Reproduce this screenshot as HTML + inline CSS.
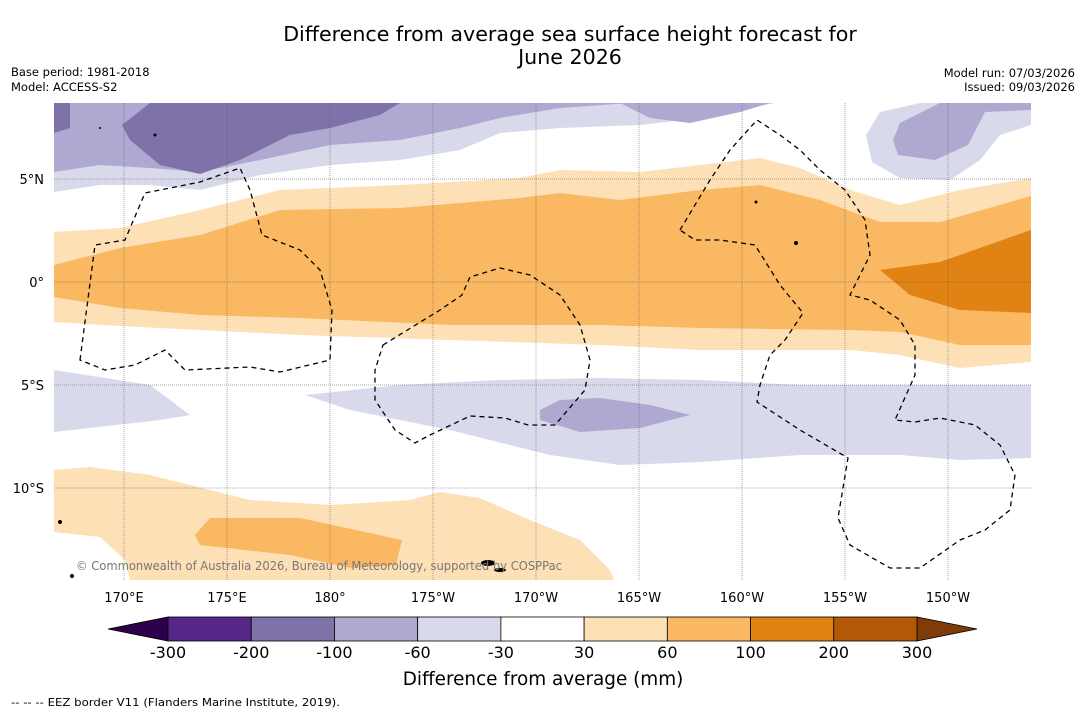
<!DOCTYPE html>
<html><head><meta charset="utf-8"><style>
body{margin:0;background:#fff;width:1085px;height:713px;overflow:hidden;font-family:"DejaVu Sans","Liberation Sans",sans-serif;}
svg text{font-family:"DejaVu Sans","Liberation Sans",sans-serif;}
</style></head><body>
<svg width="1085" height="713" viewBox="0 0 1085 713" xmlns="http://www.w3.org/2000/svg">
<text x="570" y="41" font-size="20.6" text-anchor="middle">Difference from average sea surface height forecast for</text>
<text x="570" y="64" font-size="20.6" text-anchor="middle">June 2026</text>
<text x="11" y="76" font-size="11.5">Base period: 1981-2018</text>
<text x="11" y="91" font-size="11.5">Model: ACCESS-S2</text>
<text x="1075" y="77" font-size="11.5" text-anchor="end">Model run: 07/03/2026</text>
<text x="1075" y="91" font-size="11.5" text-anchor="end">Issued: 09/03/2026</text>
<defs><clipPath id="mc"><rect x="54" y="103" width="977" height="477"/></clipPath></defs>
<g clip-path="url(#mc)">
<rect x="54" y="103" width="977" height="477" fill="#fff"/>
<path fill="#d8d9ea" d="M54,103 L775,103 L740,110 L700,118 L640,125 L560,128 L500,133 L460,150 L400,160 L330,165 L260,175 L200,190 L150,185 L100,185 L54,192 Z"/>
<path fill="#afa8d0" d="M54,103 L630,103 L560,108 L500,118 L460,128 L400,140 L330,145 L260,160 L200,172 L150,168 L100,165 L54,172 Z"/>
<path fill="#7f72a9" d="M54,103 L70,103 L70,128 L54,133 Z M122,125 L150,103 L400,103 L380,115 L330,128 L290,135 L240,160 L200,174 L160,165 L130,140 Z"/>
<path fill="#afa8d0" d="M620,103 L770,103 L740,112 L690,123 L650,118 Z"/>
<path fill="#d8d9ea" d="M880,112 L920,103 L1031,103 L1031,125 L1000,135 L980,160 L950,180 L900,178 L872,162 L866,135 Z"/>
<path fill="#afa8d0" d="M900,123 L940,103 L1031,103 L1031,110 L985,112 L968,145 L935,160 L898,155 L893,140 Z"/>
<path fill="#fee0b6" d="M54,232 L120,228 L200,210 L280,190 L400,185 L520,178 L560,170 L640,172 L700,165 L760,158 L800,168 L850,190 L900,205 L960,190 L1031,178 L1031,362 L960,368 L900,355 L850,350 L700,350 L600,345 L450,340 L300,335 L200,330 L120,326 L54,322 Z"/>
<path fill="#fab863" d="M54,265 L120,248 L200,235 L280,210 L400,208 L520,198 L560,193 L620,200 L700,190 L760,185 L820,200 L880,222 L940,222 L1031,196 L1031,345 L960,345 L900,332 L850,330 L700,328 L600,325 L450,325 L300,318 L200,315 L120,308 L54,297 Z"/>
<path fill="#e08214" d="M880,270 L940,262 L1031,230 L1031,313 L960,310 L910,295 Z"/>
<path fill="#d8d9ea" d="M305,395 L400,385 L500,380 L600,378 L700,380 L800,385 L900,385 L1031,385 L1031,458 L960,460 L900,455 L800,455 L700,462 L620,465 L550,455 L450,430 L350,410 Z M54,370 L150,385 L190,415 L160,420 L54,432 Z"/>
<path fill="#afa8d0" d="M540,410 L560,400 L600,398 L650,405 L690,415 L640,428 L580,432 L540,420 Z"/>
<path fill="#fee0b6" d="M54,470 L90,467 L150,475 L250,500 L330,505 L410,500 L440,492 L480,498 L530,520 L580,540 L610,570 L614,580 L130,580 L125,560 L100,537 L54,532 Z"/>
<path fill="#fab863" d="M195,535 L210,518 L300,518 L402,540 L396,565 L350,568 L290,555 L200,545 Z"/>
<g stroke="#555" stroke-width="0.5" stroke-dasharray="1,1">
<line x1="124" y1="103" x2="124" y2="580"/><line x1="227" y1="103" x2="227" y2="580"/><line x1="330" y1="103" x2="330" y2="580"/><line x1="433" y1="103" x2="433" y2="580"/><line x1="536" y1="103" x2="536" y2="580"/><line x1="639" y1="103" x2="639" y2="580"/><line x1="742" y1="103" x2="742" y2="580"/><line x1="845" y1="103" x2="845" y2="580"/><line x1="948" y1="103" x2="948" y2="580"/>
<line x1="54" y1="179" x2="1031" y2="179"/><line x1="54" y1="282" x2="1031" y2="282"/><line x1="54" y1="385" x2="1031" y2="385"/><line x1="54" y1="488" x2="1031" y2="488"/>
</g>
<g fill="none" stroke="#000" stroke-width="1.3" stroke-dasharray="5,4">
<path d="M80,360 L95,245 L125,240 L145,193 L200,182 L240,168 L250,190 L262,235 L300,250 L320,270 L332,310 L330,360 L280,372 L250,367 L185,370 L165,350 L135,365 L105,370 Z"/>
<path d="M383,345 L440,310 L462,295 L470,277 L500,268 L530,275 L560,295 L580,325 L590,360 L585,390 L555,425 L528,425 L505,418 L470,416 L430,435 L415,443 L395,430 L375,400 L375,370 Z"/>
<path d="M680,230 L710,180 L730,150 L757,120 L780,135 L800,150 L820,170 L845,190 L865,220 L870,255 L850,295 L870,300 L900,320 L915,345 L915,375 L895,420 L915,422 L940,418 L975,425 L1000,445 L1015,475 L1010,510 L985,530 L960,540 L920,568 L890,568 L850,545 L838,518 L848,458 L800,430 L757,402 L760,385 L770,355 L785,340 L803,313 L780,285 L755,245 L720,240 L695,240 Z"/>
</g>
<g fill="#000">
<ellipse cx="488" cy="563" rx="7" ry="3"/><ellipse cx="500" cy="570" rx="6" ry="2"/><circle cx="72" cy="576" r="2"/><circle cx="60" cy="522" r="2"/><circle cx="756" cy="202" r="1.5"/><circle cx="796" cy="243" r="2"/><circle cx="155" cy="135" r="1.5"/><circle cx="100" cy="128" r="1"/>
</g>
<text x="76" y="570" font-size="12" fill="#777" textLength="486" lengthAdjust="spacingAndGlyphs">© Commonwealth of Australia 2026, Bureau of Meteorology, supported by COSPPac</text>
</g>
<g font-size="13" text-anchor="end">
<text x="44" y="184">5°N</text><text x="44" y="287">0°</text><text x="44" y="390">5°S</text><text x="44" y="493">10°S</text>
</g>
<g font-size="13" text-anchor="middle">
<text x="124" y="602">170°E</text><text x="227" y="602">175°E</text><text x="330" y="602">180°</text><text x="433" y="602">175°W</text><text x="536" y="602">170°W</text><text x="639" y="602">165°W</text><text x="742" y="602">160°W</text><text x="845" y="602">155°W</text><text x="948" y="602">150°W</text>
</g>
<g id="cbar"></g>
<text x="543" y="685" font-size="18.4" text-anchor="middle">Difference from average (mm)</text>
<text x="11" y="706" font-size="11" textLength="329" lengthAdjust="spacingAndGlyphs">--  --  -- EEZ border V11 (Flanders Marine Institute, 2019).</text>
</svg>
<script>
const levels=["-300","-200","-100","-60","-30","30","60","100","200","300"];
const colors=["#542788","#7f72a9","#afa8d0","#d8d9ea","#ffffff","#fee0b6","#fab863","#e08214","#b35806"];
const extendColors=["#2d004b","#7f3b08"];
const NS="http://www.w3.org/2000/svg";
const g=document.getElementById('cbar');
const x0=168,x1=917,y0=617,h=24;
const w=(x1-x0)/colors.length;
function mk(t,a){const e=document.createElementNS(NS,t);for(const k in a)e.setAttribute(k,a[k]);g.appendChild(e);return e;}
const lt=mk('polygon',{points:`${x0},${y0} ${x0},${y0+h} 108,${y0+h/2}`,fill:extendColors[0],stroke:'#000','stroke-width':0.8});


const rt=mk('polygon',{points:`${x1},${y0} ${x1},${y0+h} 977,${y0+h/2}`,fill:extendColors[1],stroke:'#000','stroke-width':0.8});


colors.forEach((c,i)=>{
 const r=mk('rect',{x:x0+i*w,y:y0,width:w,height:h,fill:c,stroke:'#000','stroke-width':0.8});
 
 
});
levels.forEach((l,i)=>{
 const t=mk('text',{x:x0+i*w,y:658,'font-size':16,'text-anchor':'middle'});
 t.textContent=l;
 
 
});
</script>
</body></html>
